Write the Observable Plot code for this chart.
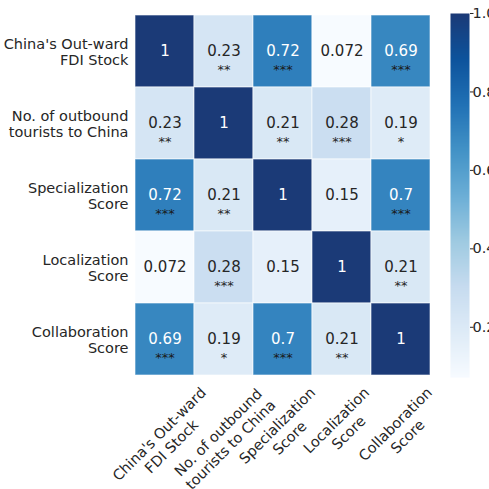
<!DOCTYPE html>
<html>
<head>
<meta charset="utf-8">
<script src="https://cdn.jsdelivr.net/npm/d3@7"></script>
<script src="https://cdn.jsdelivr.net/npm/@observablehq/plot@0.6"></script>
<style>
  html, body { margin: 0; padding: 0; background: #fff; }
  #chart { position: relative; width: 489px; height: 489px; overflow: hidden; font-family: "DejaVu Sans", sans-serif; }
  #chart svg { position: absolute; top: 0; overflow: visible; }
</style>
</head>
<body>
<div id="chart"></div>
<script>
// Variables of the correlation matrix (row order = column order)
const variables = [
  "China's Out-ward\nFDI Stock",
  "No. of outbound\ntourists to China",
  "Specialization\nScore",
  "Localization\nScore",
  "Collaboration\nScore"
];

// Pearson correlation coefficients
const coefficients = [
  [1,     0.23, 0.72, 0.072, 0.69],
  [0.23,  1,    0.21, 0.28,  0.19],
  [0.72,  0.21, 1,    0.15,  0.7 ],
  [0.072, 0.28, 0.15, 1,     0.21],
  [0.69,  0.19, 0.7,  0.21,  1   ]
];

// Significance markers
const significance = [
  ["",    "**",  "***", "",    "***"],
  ["**",  "",    "**",  "***", "*"  ],
  ["***", "**",  "",    "",    "***"],
  ["",    "***", "",    "",    "**" ],
  ["***", "*",   "***", "**",  ""   ]
];

// Colour bar ticks
const colorbarTicks = [0.2, 0.4, 0.6, 0.8, 1.0];

// Blues palette stops
const blues = ["#f7fbff", "#deebf7", "#c6dbef", "#9ecae1", "#6baed6", "#4292c6", "#2171b5", "#0d539c", "#1b3a77"];

const cells = [];
variables.forEach((row, i) => variables.forEach((col, j) => {
  cells.push({row, col, value: coefficients[i][j], stars: significance[i][j]});
}));

const vmin = d3.min(cells, d => d.value);
const vmax = d3.max(cells, d => d.value);
const colorScale = {
  type: "linear",
  domain: blues.map((_, k) => vmin + k * (vmax - vmin) / (blues.length - 1)),
  range: blues,
  interpolate: "rgb"
};

const font = "DejaVu Sans";
const labelSize = 14.5;
const textColor = "#262626";

// Rotated column labels: centre of each label block sits below the axis
const ctx = document.createElement("canvas").getContext("2d");
ctx.font = `${labelSize}px "${font}"`;
const lineHeight = 1.2;
function labelOffset(label) {
  const lines = label.split("\n");
  const w = d3.max(lines, l => ctx.measureText(l).width);
  const h = lines.length * lineHeight * labelSize;
  return 6 + (w + h) * Math.SQRT1_2 / 2;
}

const heatmap = Plot.plot({
  width: 489,
  height: 489,
  marginLeft: 133,
  marginRight: 58,
  marginTop: 13,
  marginBottom: 112,
  style: {fontFamily: font, fontSize: `${labelSize}px`, color: textColor, background: "transparent"},
  x: {domain: variables, padding: 0, axis: null},
  y: {domain: variables, padding: 0, axis: null},
  color: colorScale,
  marks: [
    Plot.cell(cells, {x: "col", y: "row", fill: "value", stroke: "white", strokeOpacity: 0.6, strokeWidth: 1}),
    Plot.text(cells, {
      x: "col", y: "row", text: d => String(d.value),
      fill: d => d.value > 0.6 ? "white" : textColor,
      fontSize: 15, lineAnchor: "middle"
    }),
    Plot.text(cells, {
      x: "col", y: "row", text: "stars",
      fill: d => d.value > 0.6 ? "#1a1a1a" : textColor,
      fontSize: 13, lineAnchor: "bottom", dy: 22
    }),
    Plot.axisY({
      tickSize: 0, tickPadding: 5, label: null, fontSize: labelSize,
      lineHeight: 1.15, fill: textColor
    }),
    ...variables.map(v => Plot.text([v], {
      x: d => d, text: d => d, frameAnchor: "bottom",
      rotate: -45, textAnchor: "middle", lineAnchor: "middle",
      lineHeight, fontSize: labelSize, fill: textColor,
      dy: labelOffset(v)
    }))
  ]
});

const colorbar = Plot.plot({
  width: 60,
  height: 489,
  marginLeft: 0,
  marginRight: 41,
  marginTop: 13,
  marginBottom: 112,
  style: {fontFamily: font, fontSize: `${labelSize}px`, color: textColor, background: "transparent"},
  x: {domain: [0, 1], axis: null},
  y: {domain: [vmin, vmax]},
  color: colorScale,
  marks: [
    Plot.raster({x1: 0, x2: 1, y1: vmin, y2: vmax, fill: (x, y) => y, pixelSize: 1}),
    Plot.axisY({
      anchor: "right", ticks: colorbarTicks, tickFormat: d3.format(".1f"),
      tickSize: 3.5, tickPadding: -0.5, label: null, fontSize: labelSize, fill: textColor
    })
  ]
});

const chart = document.getElementById("chart");
heatmap.style.left = "0px";
colorbar.style.left = "450px";
chart.append(heatmap, colorbar);
</script>
</body>
</html>
